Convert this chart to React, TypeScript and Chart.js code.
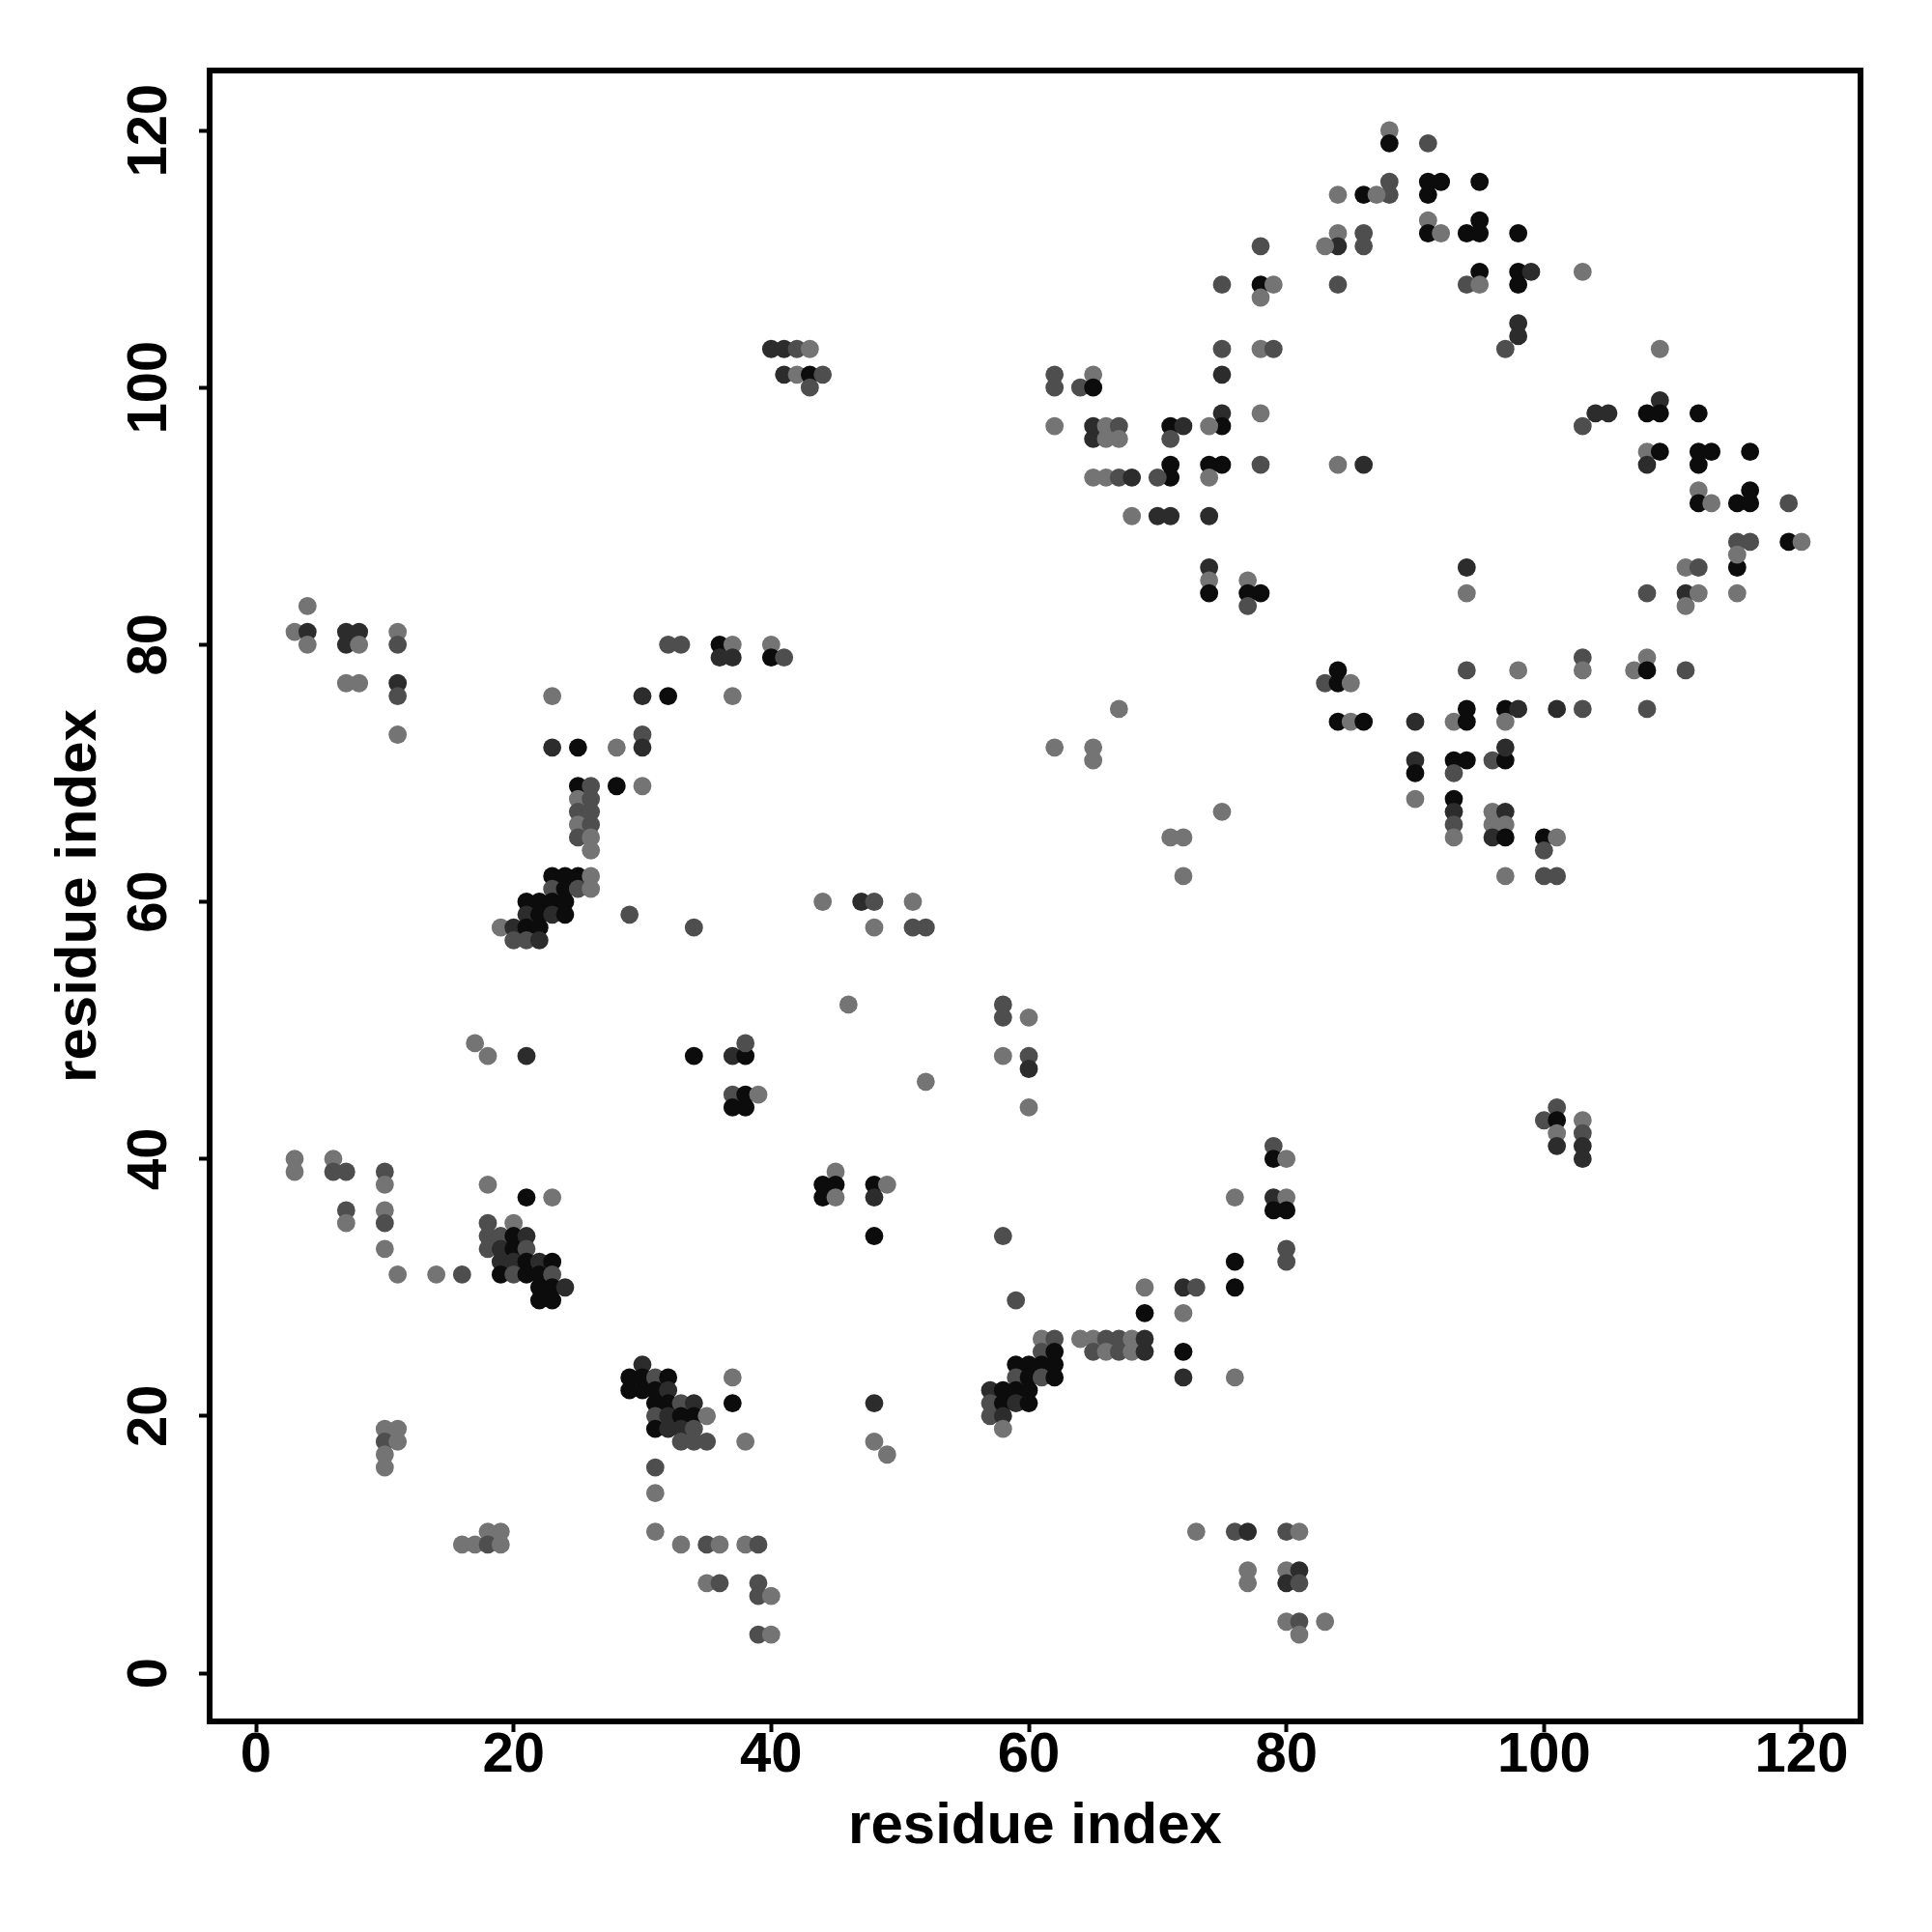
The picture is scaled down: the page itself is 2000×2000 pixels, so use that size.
import React, { useEffect, useRef } from "react";
import { Chart, registerables } from "chart.js";

Chart.register(...registerables);

// Axis ticks and titles
const axisTicks = [0, 20, 40, 60, 80, 100, 120];
const xAxisTitle = "residue index";
const yAxisTitle = "residue index";

// Contacts: [residue i, residue j, contact level (1 = weak ... 4 = strong)]
const clusterTopLeft = [
  [3, 81, 1], [4, 83, 1], [4, 81, 3], [4, 80, 1], [7, 81, 3], [8, 81, 3], [7, 80, 3], [8, 80, 1],
  [7, 77, 1], [8, 77, 1], [11, 81, 1], [11, 80, 2], [11, 77, 3], [11, 76, 2], [11, 73, 1],
];

const clusterDiagA = [
  [23, 76, 1], [23, 72, 3], [25, 72, 4], [28, 72, 1], [25, 69, 4], [26, 69, 2], [28, 69, 4],
  [25, 68, 1], [26, 68, 2], [25, 67, 2], [26, 67, 2], [25, 66, 1], [26, 66, 2], [25, 65, 2], [26, 65, 1], [26, 64, 1],
  [23, 62, 4], [24, 62, 4], [25, 62, 4], [26, 62, 1], [23, 61, 2], [24, 61, 4], [25, 61, 2], [26, 61, 1],
  [21, 60, 4], [22, 60, 4], [23, 60, 4], [24, 60, 4], [21, 59, 3], [22, 59, 4], [23, 59, 3], [24, 59, 4],
  [19, 58, 1], [20, 58, 3], [21, 58, 4], [22, 58, 4], [20, 57, 2], [21, 57, 2], [22, 57, 3],
  [29, 59, 2], [34, 58, 2], [17, 49, 1], [18, 48, 1], [21, 48, 3],
];

const clusterStrandB = [
  [32, 80, 2], [33, 80, 2], [36, 80, 4], [37, 80, 1], [36, 79, 3], [37, 79, 3], [40, 80, 1], [40, 79, 4], [41, 79, 2],
  [30, 76, 3], [32, 76, 4], [37, 76, 1], [30, 73, 2], [30, 72, 3], [30, 69, 1],
];

const clusterTop40 = [
  [40, 103, 3], [41, 103, 3], [42, 103, 2], [43, 103, 1], [41, 101, 3], [42, 101, 1], [43, 101, 4], [44, 101, 2], [43, 100, 2],
];

const clusterMiddle = [
  [44, 60, 1], [47, 60, 3], [48, 60, 2], [51, 60, 1], [48, 58, 1], [51, 58, 2], [52, 58, 2], [46, 52, 1],
  [58, 52, 2], [58, 51, 2], [60, 51, 1], [58, 48, 1], [60, 48, 2], [60, 47, 3], [60, 44, 1], [52, 46, 1],
  [34, 48, 4], [37, 48, 3], [38, 48, 4], [38, 49, 2], [37, 45, 2], [38, 45, 4], [39, 45, 1], [37, 44, 4], [38, 44, 4],
];

const clusterLeft30 = [
  [3, 40, 1], [3, 39, 1], [6, 40, 1], [6, 39, 2], [7, 39, 2], [10, 39, 2], [10, 38, 1], [7, 36, 2], [7, 35, 1],
  [10, 36, 1], [10, 35, 2], [10, 33, 1], [11, 31, 1], [14, 31, 1], [16, 31, 2], [18, 38, 1], [21, 37, 4], [23, 37, 1],
  [18, 35, 2], [20, 35, 1], [18, 34, 2], [19, 34, 2], [20, 34, 4], [21, 34, 3], [18, 33, 2], [19, 33, 3], [20, 33, 4], [21, 33, 2],
  [19, 32, 3], [20, 32, 3], [21, 32, 4], [22, 32, 3], [23, 32, 4], [19, 31, 4], [20, 31, 2], [21, 31, 4], [22, 31, 4], [23, 31, 2],
  [22, 30, 4], [23, 30, 4], [24, 30, 3], [22, 29, 4], [23, 29, 4],
];

const clusterLowLeft = [
  [10, 19, 1], [11, 19, 1], [10, 18, 2], [11, 18, 1], [10, 17, 1], [10, 16, 1],
  [16, 10, 1], [17, 10, 1], [18, 11, 1], [19, 11, 1], [18, 10, 2], [19, 10, 1],
];

const clusterLowMid = [
  [45, 39, 1], [44, 38, 4], [45, 38, 4], [44, 37, 4], [45, 37, 1], [48, 38, 4], [49, 38, 1], [48, 37, 3], [48, 34, 4],
  [58, 34, 2], [59, 29, 2],
  [30, 24, 3], [29, 23, 4], [30, 23, 4], [31, 23, 2], [32, 23, 4], [29, 22, 4], [30, 22, 4], [31, 22, 4], [32, 22, 3],
  [31, 21, 4], [32, 21, 4], [33, 21, 2], [34, 21, 3], [31, 20, 2], [32, 20, 3], [33, 20, 4], [34, 20, 4], [35, 20, 1],
  [31, 19, 4], [32, 19, 3], [33, 19, 3], [34, 19, 2], [33, 18, 2], [34, 18, 2], [35, 18, 2],
  [37, 23, 1], [37, 21, 4], [38, 18, 1], [48, 21, 3], [48, 18, 1], [49, 17, 1], [31, 16, 2], [31, 14, 1], [31, 11, 1],
  [33, 10, 1], [35, 10, 2], [36, 10, 1], [38, 10, 1], [39, 10, 2], [35, 7, 1], [36, 7, 2], [39, 7, 2], [39, 6, 2],
  [40, 6, 1], [39, 3, 2], [40, 3, 1],
];

const clusterLowRight = [
  [59, 24, 4], [60, 24, 4], [59, 23, 2], [60, 23, 4], [57, 22, 3], [58, 22, 4], [59, 22, 4], [60, 22, 4],
  [57, 21, 2], [58, 21, 4], [59, 21, 3], [60, 21, 4], [57, 20, 2], [58, 20, 3], [58, 19, 1],
  [61, 26, 1], [62, 26, 2], [64, 26, 1], [65, 26, 1], [66, 26, 2], [67, 26, 2], [68, 26, 1], [69, 26, 3],
  [61, 25, 2], [62, 25, 4], [65, 25, 2], [66, 25, 1], [67, 25, 2], [68, 25, 1], [69, 25, 3],
  [61, 24, 4], [62, 24, 4], [61, 23, 2], [62, 23, 4],
  [69, 30, 1], [72, 30, 3], [73, 30, 2], [69, 28, 4], [72, 28, 1], [72, 25, 4], [72, 23, 3], [76, 23, 1],
  [76, 32, 4], [76, 30, 4], [76, 37, 1],
  [79, 41, 2], [79, 40, 4], [80, 40, 1], [79, 37, 3], [80, 37, 1], [79, 36, 4], [80, 36, 4], [80, 33, 2], [80, 32, 2],
  [73, 11, 1], [76, 11, 2], [77, 11, 3], [80, 11, 2], [81, 11, 1], [77, 8, 1], [77, 7, 1], [80, 8, 1], [81, 8, 3],
  [80, 7, 3], [81, 7, 2], [80, 4, 1], [81, 4, 2], [83, 4, 1], [81, 3, 1],
];

const clusterCenterRight = [
  [74, 86, 3], [74, 85, 1], [74, 84, 4], [77, 85, 1], [77, 84, 4], [78, 84, 4], [77, 83, 2],
  [67, 75, 1], [62, 72, 1], [65, 72, 1], [65, 71, 1], [75, 67, 1], [71, 65, 1], [72, 65, 1], [72, 62, 1],
  [84, 78, 4], [83, 77, 2], [84, 77, 4], [85, 77, 1], [84, 74, 4], [85, 74, 1], [86, 74, 4],
  [90, 74, 3], [90, 71, 3], [90, 70, 4], [90, 68, 1],
];

const clusterRight = [
  [94, 86, 3], [94, 84, 1], [108, 84, 2], [111, 86, 1], [112, 86, 2], [111, 84, 3], [112, 84, 1], [111, 83, 1], [115, 86, 4], [115, 84, 1],
  [94, 78, 2], [98, 78, 1], [103, 79, 2], [103, 78, 1], [108, 79, 1], [107, 78, 1], [108, 78, 4], [111, 78, 2],
  [94, 75, 4], [93, 74, 1], [94, 74, 4], [97, 75, 4], [98, 75, 3], [97, 74, 1], [101, 75, 3], [103, 75, 2], [108, 75, 2],
  [93, 71, 4], [94, 71, 4], [93, 70, 2], [96, 71, 2], [97, 71, 4], [97, 72, 3],
  [93, 68, 4], [93, 67, 3], [93, 66, 2], [93, 65, 1], [96, 67, 1], [97, 67, 3], [96, 66, 1], [97, 66, 1], [96, 65, 3], [97, 65, 4],
  [100, 65, 4], [101, 65, 1], [100, 64, 2], [97, 62, 1], [100, 62, 2], [101, 62, 2],
  [101, 44, 2], [100, 43, 2], [101, 43, 4], [101, 42, 1], [101, 41, 3], [103, 43, 1], [103, 42, 2], [103, 41, 3], [103, 40, 3],
];

const clusterUpper = [
  [88, 120, 1], [88, 119, 4], [91, 119, 2], [88, 116, 2], [88, 115, 2], [86, 115, 4], [87, 115, 1], [84, 115, 1],
  [91, 116, 4], [92, 116, 4], [91, 115, 4], [91, 113, 1], [91, 112, 4], [92, 112, 1],
  [84, 112, 1], [86, 112, 2], [84, 111, 3], [86, 111, 2], [83, 111, 1], [78, 111, 2],
  [75, 108, 2], [78, 108, 4], [79, 108, 1], [78, 107, 1], [84, 108, 2], [75, 103, 2], [78, 103, 1], [79, 103, 2],
  [75, 101, 3], [78, 98, 1], [75, 98, 3], [75, 97, 4], [74, 97, 1],
  [62, 101, 2], [62, 100, 2], [65, 101, 1], [64, 100, 2], [65, 100, 4], [62, 97, 1],
  [65, 97, 3], [66, 97, 1], [67, 97, 2], [65, 96, 3], [66, 96, 1], [67, 96, 1],
  [71, 97, 4], [72, 97, 3], [71, 96, 2], [71, 94, 4], [71, 93, 4], [70, 93, 2], [74, 94, 4], [75, 94, 4], [74, 93, 1],
  [78, 94, 2], [84, 94, 1], [86, 94, 3],
  [65, 93, 1], [66, 93, 1], [67, 93, 2], [68, 93, 3], [68, 90, 1], [70, 90, 3], [71, 90, 3], [74, 90, 3],
];

const clusterUpperRight = [
  [95, 116, 4], [95, 113, 4], [94, 112, 4], [95, 112, 4], [98, 112, 4], [95, 109, 4], [94, 108, 2], [95, 108, 1],
  [98, 109, 4], [99, 109, 3], [98, 108, 4], [103, 109, 1], [98, 105, 3], [98, 104, 3], [97, 103, 2], [109, 103, 1],
  [109, 99, 3], [108, 98, 4], [109, 98, 4], [104, 98, 3], [105, 98, 3], [103, 97, 2], [112, 98, 4],
  [108, 95, 1], [109, 95, 4], [108, 94, 3], [112, 95, 4], [113, 95, 4], [112, 94, 4], [116, 95, 4],
  [112, 92, 1], [112, 91, 4], [113, 91, 1], [115, 91, 4], [116, 91, 4], [116, 92, 4], [119, 91, 2],
  [115, 88, 2], [116, 88, 2], [115, 87, 1], [119, 88, 4], [120, 88, 1],
];

const allContacts = [
  ...clusterTopLeft, ...clusterDiagA, ...clusterStrandB, ...clusterTop40, ...clusterMiddle,
  ...clusterLeft30, ...clusterLowLeft, ...clusterLowMid, ...clusterLowRight,
  ...clusterCenterRight, ...clusterRight, ...clusterUpper, ...clusterUpperRight,
];

const SHADES: Record<number, string> = { 1: "#747474", 2: "#4e4e4e", 3: "#2c2c2c", 4: "#0c0c0c" };
const FONT_FAMILY = "'Liberation Sans', Arial, Helvetica, sans-serif";

export default function App() {
  const canvasRef = useRef<HTMLCanvasElement | null>(null);

  useEffect(() => {
    const canvas = canvasRef.current;
    if (!canvas) return;
    const tickFont = { family: FONT_FAMILY, size: 58, weight: "bold" as const };
    const titleFont = { family: FONT_FAMILY, size: 60, weight: "bold" as const };

    const framePlugin = {
      id: "frameAndYLabels",
      afterDraw(chart: any) {
        const { ctx, chartArea: a } = chart;
        ctx.save();
        ctx.strokeStyle = "#000";
        ctx.lineWidth = 6;
        ctx.strokeRect(a.left, a.top, a.right - a.left, a.bottom - a.top);
        const ys = chart.scales.y;
        ctx.fillStyle = "#000";
        ctx.font = `bold 58px ${FONT_FAMILY}`;
        ctx.textAlign = "center";
        ctx.textBaseline = "alphabetic";
        ys.ticks.forEach((t: any) => {
          const py = ys.getPixelForValue(t.value);
          ctx.save();
          ctx.translate(a.left - 45, py);
          ctx.rotate(-Math.PI / 2);
          ctx.fillText(String(t.label), 0, 0);
          ctx.restore();
        });
        ctx.restore();
      },
    };

    const data = allContacts.map((c) => ({ x: c[0], y: c[1] }));
    const colors = allContacts.map((c) => SHADES[c[2]]);

    const chart = new Chart(canvas, {
      type: "scatter",
      data: {
        datasets: [
          {
            data,
            backgroundColor: colors,
            pointBackgroundColor: colors,
            pointBorderWidth: 0,
            borderWidth: 0,
            pointRadius: 9.4,
            pointHoverRadius: 9.4,
            pointStyle: "circle",
          },
        ],
      },
      options: {
        responsive: false,
        animation: false,
        devicePixelRatio: 1,
        events: [],
        layout: { padding: { top: 73, right: 74, bottom: 0, left: 0 } },
        plugins: { legend: { display: false }, tooltip: { enabled: false } },
        scales: {
          x: {
            type: "linear",
            min: -3.6,
            max: 124.575,
            afterBuildTicks: (s: any) => {
              s.ticks = axisTicks.map((v) => ({ value: v }));
            },
            afterFit: (s: any) => {
              s.height = 218;
            },
            grid: { display: true, drawOnChartArea: false, drawTicks: true, tickLength: 11, tickWidth: 4, tickColor: "#000" },
            border: { display: false },
            ticks: { color: "#000", font: tickFont, padding: -10, maxRotation: 0, minRotation: 0, autoSkip: false },
            title: { display: true, text: xAxisTitle, color: "#000", font: titleFont, padding: { top: 0, bottom: 73 } },
          },
          y: {
            type: "linear",
            min: -3.757,
            max: 124.66,
            afterBuildTicks: (s: any) => {
              s.ticks = axisTicks.map((v) => ({ value: v }));
            },
            afterFit: (s: any) => {
              s.width = 217;
            },
            grid: { display: true, drawOnChartArea: false, drawTicks: true, tickLength: 11, tickWidth: 4, tickColor: "#000" },
            border: { display: false },
            ticks: { display: false },
            title: { display: true, text: yAxisTitle, color: "#000", font: titleFont, padding: { top: 46, bottom: 0 } },
          },
        },
      },
      plugins: [framePlugin],
    } as any);

    return () => chart.destroy();
  }, []);

  return (
    <div style={{ position: "absolute", left: 0, top: 0, width: 2000, height: 2000, background: "#fff" }}>
      <canvas ref={canvasRef} width={2000} height={2000} style={{ width: 2000, height: 2000, display: "block" }} />
    </div>
  );
}
